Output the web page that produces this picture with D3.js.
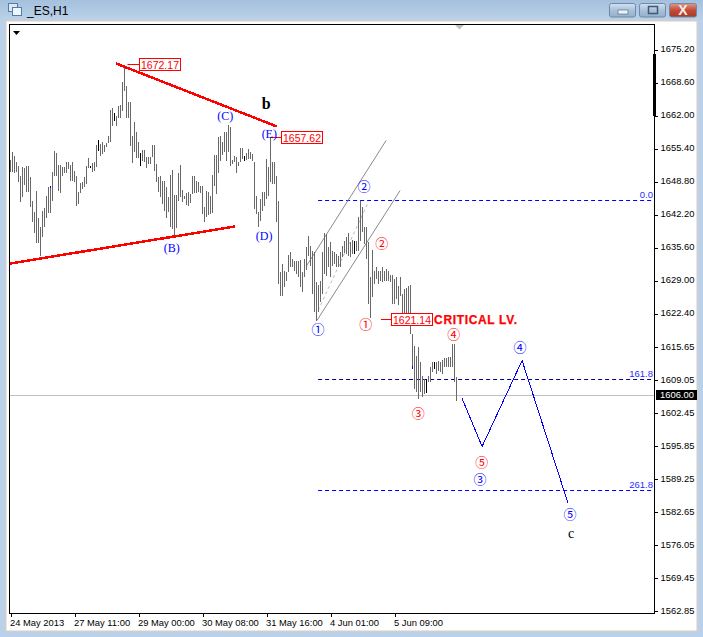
<!DOCTYPE html>
<html>
<head>
<meta charset="utf-8">
<script src="https://cdn.jsdelivr.net/npm/d3@7"></script>
<style>
  html, body { margin: 0; padding: 0; background: #b9d1ea; overflow: hidden; }
  svg { display: block; }
  text { font-family: "Liberation Sans", Arial, sans-serif; }
</style>
</head>
<body>
<div id="chart"></div>
<script>
// hourly bar highs and lows
const highs = [1653.2,1654.8,1653.9,1652.8,1652,1650,1651.8,1651.5,1651.9,1652,1649.8,1645,1642.7,1647,1641.5,1639.8,1643,1643.5,1645.9,1647.7,
  1648,1650.7,1655,1654.5,1652.2,1652.2,1651.7,1651.8,1652.8,1652.8,1652.1,1652.8,1651,1650,1646.8,1648.5,1648.8,1649.7,1652,1653.5,
  1652,1652.5,1652.8,1656.2,1657.2,1656.3,1656.7,1656.1,1656.5,1658,1663.2,1663.6,1662.5,1662,1663.9,1664.1,1668.7,1672.2,1668,1664.7,
  1664.7,1658,1660.8,1658.8,1656.8,1654.5,1655.2,1655.2,1653.7,1653.7,1653.7,1656.1,1656.1,1652.3,1649.7,1650,1648.9,1648.9,1647.7,1645.7,
  1650.2,1651.1,1646.1,1646.1,1650.5,1652.1,1647.2,1646,1646.5,1646.7,1646.3,1649.9,1650,1649,1648.7,1647.9,1647.9,1643.7,1647,1646.7,
  1646,1650.1,1654.2,1654.2,1657.7,1657.9,1656.7,1658.8,1658.8,1660.2,1659.7,1653.2,1653.9,1653.7,1652.7,1655.5,1655.5,1653.9,1654.5,1655.3,
  1654.8,1654.3,1652.7,1646,1642.8,1645.3,1646.8,1646.7,1653.3,1651.7,1657.7,1652.8,1652.8,1650,1645,1630.7,1632.3,1631,1630.7,1634.2,
  1634.7,1633.3,1632.9,1632.9,1632.9,1633.2,1630.7,1633.3,1635.7,1638,1636,1635,1634.7,1628.7,1628.2,1629,1634.7,1638.5,1638.3,1635.7,
  1636.7,1634.9,1634.7,1634.3,1634,1634.7,1636,1637,1637.7,1638.5,1636.7,1637.1,1637,1637,1641.7,1645,1643.7,1639.7,1639.7,1636.7,
  1629.8,1635.1,1630.9,1631.8,1630.9,1631,1631.8,1631,1631.3,1631,1630.2,1630.2,1629.3,1629.8,1628,1629.7,1626.3,1627.3,1627.5,1628,
  1628.2,1618.3,1616,1614,1615.7,1612.7,1610,1609.3,1609.3,1610,1611.7,1612.7,1612.8,1612.7,1613,1612.8,1613.1,1613.5,1613.5,1613.7,
  1613.7,1616.3,1616.3,1609.8];
const lows = [1650.7,1650.8,1650.5,1650.8,1648.7,1644.7,1645.7,1648.1,1646.8,1646.8,1643.7,1640.7,1638.5,1636.5,1636.5,1634,1637.7,1639.7,1641.5,1642.5,
  1642.5,1645,1649.9,1650,1647,1646.5,1650,1650.5,1650.5,1651.3,1649,1649,1648.7,1643.9,1644.3,1646.5,1647.3,1647.7,1648.3,1651.5,
  1651.5,1650.7,1651,1651.7,1655,1654,1654.3,1654.8,1655.7,1656.5,1656.7,1660,1661,1660,1661.5,1661.5,1663,1667,1661.5,1661.5,
  1656,1652.5,1654.7,1653.5,1653.5,1652,1653,1652.7,1651.5,1652.3,1652.3,1653.7,1651,1648.8,1646.8,1645.7,1644.3,1643,1641.5,1642.7,
  1639.7,1639.3,1637.9,1639.5,1645,1645.7,1644.8,1645.3,1644.1,1644,1644.5,1646.3,1646.5,1646.5,1646.8,1646.5,1642.3,1640.7,1641.7,1642.1,
  1642.3,1642.5,1648,1646.3,1650.5,1653,1654.1,1654.7,1653,1654.7,1652,1652.3,1652.7,1650.5,1652,1652.7,1653.3,1653,1653.2,1653.3,
  1653.3,1653,1643.3,1642.3,1639.7,1641,1643,1644,1645.3,1646,1648.7,1648.3,1648.3,1640.7,1628.3,1626,1626,1627.8,1629,1630.7,
  1631.7,1631.7,1631,1630.3,1629.7,1627.7,1626.7,1629.7,1631.1,1634,1632,1626.3,1622.7,1621,1622.7,1624.7,1626.3,1630.3,1630,1631.7,
  1629.7,1632,1632.3,1631.7,1631.7,1631.7,1633.7,1634.5,1634.3,1634,1633.7,1634.3,1634.3,1634.9,1635,1637,1638.7,1636.3,1633.3,1624.3,
  1621.5,1625.7,1628.3,1629.3,1628.3,1629,1628.7,1629,1629,1629,1628.7,1624.3,1624.3,1625.3,1624.2,1626,1622.3,1622.3,1622.3,1622,
  1618.3,1611.3,1607.3,1606.7,1605.3,1606.7,1605.7,1606.3,1606.5,1608.7,1608.7,1610.7,1611.3,1610.3,1611,1610.7,1610.3,1611.8,1611.8,1611.8,
  1611.8,1611.7,1608.7,1605];
// bars drawn black in the reference, and the two with a blue tip
const blackBars = [40, 44, 52, 65, 117, 172, 208, 212];
const blueTips = [[20, 1648, 1647.6], [201, 1612, 1611.3]];

// axis ticks
const priceTicks = [1675.20,1668.60,1662.00,1655.40,1648.80,1642.20,1635.60,1629.00,1622.40,1615.65,1609.05,1602.45,1595.85,1589.25,1582.65,1576.05,1569.45,1562.85];
const timeTickBars = [0, 32, 64, 96, 128, 160, 192];
const timeLabels = ["24 May 2013","27 May 11:00","29 May 00:00","30 May 08:00","31 May 16:00","4 Jun 01:00","5 Jun 09:00"];
const lastPrice = 1606.00;

// drawn objects, as [bar, price] pairs
const upperTrend = [[52.8, 1672.4], [133.2, 1659.8]];
const lowerTrend = [[-0.2, 1632.4], [112.2, 1639.8]];
const channelUpper = [[147.8, 1631.8], [187.8, 1657]];
const channelLower = [[153.2, 1621], [194.8, 1647]];
const channelMid = [[153.8, 1623], [178.8, 1644.6]];
const projection = [[225.8, 1605.4], [235.8, 1595.8], [255.8, 1613], [278.8, 1584.4]];

// fibonacci levels: label, price, first bar
const fibLabels = ["0.0", "161.8", "261.8"];
const fibPrices = [1645, 1609.2, 1587];
const fibStart = 153.8;

// price callouts: value, bar where the box starts, bar where the stub starts
const calloutValues = [1672.17, 1657.62, 1621.14];
const calloutBoxBars = [64.5, 135.6, 190.3];
const calloutStubBars = [58.5, 130.3, 185.2];

// wave labels: text, bar, price
const blueWaves = [["①",153.8,1619.4],["②",176.8,1648],["③",234.8,1589.4],["④",254.8,1615.8],["⑤",279.8,1582.4]];
const redWaves = [["①",177.6,1620.5],["②",185.6,1636.7],["③",203.9,1602.6],["④",221.6,1618.4],["⑤",235.6,1592.8]];
const letterWaves = [["(C)",107.4,1661.9],["(B)",80.6,1635.5],["(D)",126.8,1637.9],["(E)",129.4,1658.3]];

const width = 703, height = 637;
const frame = {top: 24.5, right: 654.5, bottom: 613.5, left: 9.5};

const svg = d3.select("#chart")
  .append("svg")
    .attr("width", width)
    .attr("height", height);

const x = d3.scaleLinear().domain([0, 1]).range([10.5, 12.5]);
const y = d3.scaleLinear().domain([1675.2, 1562.85]).range([49.5, 611.25]);

// window chrome
const defs = svg.append("defs");
const titleGrad = defs.append("linearGradient").attr("id", "titleGrad")
  .attr("x1", 0).attr("x2", 0).attr("y1", 0).attr("y2", 1);
titleGrad.append("stop").attr("offset", "0%").attr("stop-color", "#a5c0dd");
titleGrad.append("stop").attr("offset", "100%").attr("stop-color", "#bcd3eb");
const btnGrad = defs.append("linearGradient").attr("id", "btnGrad")
  .attr("x1", 0).attr("x2", 0).attr("y1", 0).attr("y2", 1);
btnGrad.append("stop").attr("offset", "0%").attr("stop-color", "#d4e2f0");
btnGrad.append("stop").attr("offset", "50%").attr("stop-color", "#a9c1da");
btnGrad.append("stop").attr("offset", "100%").attr("stop-color", "#95b0cc");
const closeGrad = defs.append("linearGradient").attr("id", "closeGrad")
  .attr("x1", 0).attr("x2", 0).attr("y1", 0).attr("y2", 1);
closeGrad.append("stop").attr("offset", "0%").attr("stop-color", "#dd9a8a");
closeGrad.append("stop").attr("offset", "50%").attr("stop-color", "#c44a38");
closeGrad.append("stop").attr("offset", "100%").attr("stop-color", "#a8382c");

svg.append("rect").attr("width", width).attr("height", height).attr("fill", "#b9d1ea");
svg.append("rect").attr("width", width).attr("height", 22).attr("fill", "url(#titleGrad)");
svg.append("rect")
    .attr("x", 5.5).attr("y", 20.5).attr("width", 692).attr("height", 611)
    .attr("fill", "#fff").attr("stroke", "#cfcfcf").attr("stroke-width", 2);

// title and icon
svg.append("rect").attr("x", 8.5).attr("y", 3.5).attr("width", 9).attr("height", 8).attr("fill", "#dce9f5").attr("stroke", "#4f7fa8");
svg.append("rect").attr("x", 12.5).attr("y", 7.5).attr("width", 9).attr("height", 8).attr("fill", "#eef5fb").attr("stroke", "#4f7fa8");
svg.append("text").attr("x", 27).attr("y", 15).attr("font-size", 12).attr("fill", "#000").text("_ES,H1");

// window buttons
[[610, "url(#btnGrad)"], [640, "url(#btnGrad)"], [670, "url(#closeGrad)"]].forEach(function(b) {
  svg.append("rect")
    .attr("x", b[0] - 0.5).attr("y", 3.5)
    .attr("width", b[0] == 670 ? 27 : 26).attr("height", 13.5).attr("rx", 2)
    .attr("fill", b[1]).attr("stroke", "#6f8aa8");
});
svg.append("rect").attr("x", 618).attr("y", 10).attr("width", 10).attr("height", 4).attr("fill", "#eef3f8").attr("stroke", "#56718e").attr("stroke-width", 0.7);
svg.append("rect").attr("x", 648.5).attr("y", 6.5).attr("width", 9).attr("height", 7).attr("fill", "none").attr("stroke", "#3e5a78").attr("stroke-width", 1.5);
svg.append("text").attr("x", 683).attr("y", 15).attr("text-anchor", "middle").attr("font-size", 14).attr("font-weight", "bold").attr("fill", "#f4ece8").text("X");

// last price line sits under the bars
svg.append("line")
    .attr("x1", frame.left).attr("x2", frame.right)
    .attr("y1", Math.floor(y(lastPrice)) + 0.5).attr("y2", Math.floor(y(lastPrice)) + 0.5)
    .attr("stroke", "#c0c0c0");

// fibonacci levels
const fibColors = ["#0000ff", "#000099", "#0000ff"];
fibPrices.forEach(function(p, i) {
  svg.append("line")
      .attr("x1", x(fibStart)).attr("x2", 653)
      .attr("y1", Math.floor(y(p)) + 0.5).attr("y2", Math.floor(y(p)) + 0.5)
      .attr("stroke", fibColors[i])
      .attr("stroke-dasharray", "4,3");
  svg.append("text")
      .attr("x", 653).attr("y", Math.floor(y(p)) - 2)
      .attr("text-anchor", "end")
      .attr("font-size", 9.5)
      .attr("fill", "#2a2aff")
      .text(fibLabels[i]);
});

// channel, thin grey
const line = d3.line().x(d => x(d[0])).y(d => y(d[1]));
svg.append("path").attr("d", line(channelUpper)).attr("fill", "none").attr("stroke", "#8a8a8a");
svg.append("path").attr("d", line(channelLower)).attr("fill", "none").attr("stroke", "#8a8a8a");
svg.append("path").attr("d", line(channelMid)).attr("fill", "none").attr("stroke", "#bbb").attr("stroke-dasharray", "3,3");

// hl bars
svg.append("g")
    .attr("shape-rendering", "crispEdges")
  .selectAll("line")
  .data(highs)
  .join("line")
    .attr("x1", (d, i) => x(i))
    .attr("x2", (d, i) => x(i))
    .attr("y1", d => y(d))
    .attr("y2", (d, i) => y(lows[i]))
    .attr("stroke", (d, i) => blackBars.includes(i) ? "#000" : "#686868");

svg.append("g")
    .attr("shape-rendering", "crispEdges")
  .selectAll("line")
  .data(blueTips)
  .join("line")
    .attr("x1", d => x(d[0]))
    .attr("x2", d => x(d[0]))
    .attr("y1", d => y(d[1]))
    .attr("y2", d => y(d[2]))
    .attr("stroke", "#0000ff");

// red trendlines, aliased like the terminal draws them
svg.append("path").attr("d", line(upperTrend)).attr("fill", "none").attr("stroke", "#ff0000").attr("stroke-width", 2.5).attr("shape-rendering", "crispEdges");
svg.append("path").attr("d", line(lowerTrend)).attr("fill", "none").attr("stroke", "#ff0000").attr("stroke-width", 2.5).attr("shape-rendering", "crispEdges");

// projected path
svg.append("path").attr("d", line(projection)).attr("fill", "none").attr("stroke", "#0000ff").attr("stroke-width", 1).attr("shape-rendering", "crispEdges");

// price callouts
calloutValues.forEach(function(v, i) {
  const yy = Math.floor(y(v)) + 0.5;
  const bx = Math.floor(x(calloutBoxBars[i])) + 0.5;
  svg.append("line")
      .attr("x1", x(calloutStubBars[i])).attr("x2", bx)
      .attr("y1", yy).attr("y2", yy)
      .attr("stroke", "#ff0000");
  svg.append("rect")
      .attr("x", bx).attr("y", yy - 6)
      .attr("width", 41).attr("height", 12)
      .attr("fill", "#fff").attr("stroke", "#ff0000");
  svg.append("text")
      .attr("x", bx + 20.5).attr("y", yy + 4)
      .attr("text-anchor", "middle")
      .attr("font-size", 10.5)
      .attr("fill", "#ff0000")
      .text(d3.format(".2f")(v));
});

svg.append("text")
    .attr("x", x(211.8)).attr("y", y(1621.14) + 4.5)
    .attr("font-size", 12)
    .attr("font-weight", "bold")
    .attr("letter-spacing", 0.65)
    .attr("fill", "#ff0000")
    .attr("stroke", "#ff0000")
    .attr("stroke-width", 0.25)
    .text("CRITICAL LV.");

// wave labels
function waveText(data, color, font, size, weight) {
  svg.append("g").selectAll("text")
    .data(data)
    .join("text")
      .attr("x", d => x(d[1]))
      .attr("y", d => y(d[2]))
      .attr("text-anchor", "middle")
      .attr("dominant-baseline", "central")
      .attr("fill", color)
      .attr("font-weight", weight || "normal")
      .style("font-family", font)
      .attr("font-size", size)
      .text(d => d[0]);
}
waveText(blueWaves, "#0000ff", '"Noto Sans CJK JP"', 13);
waveText(redWaves, "#ff0000", '"Noto Sans CJK JP"', 13);
waveText(letterWaves, "#0000ff", '"Liberation Serif"', 12);
waveText([["b", 127.8, 1664.4]], "#000", '"Liberation Serif"', 16, "bold");
waveText([["c", 280.3, 1578.4]], "#000", '"Liberation Serif"', 14);

// frame
svg.append("rect")
    .attr("x", frame.left).attr("y", frame.top)
    .attr("width", frame.right - frame.left).attr("height", frame.bottom - frame.top)
    .attr("fill", "none").attr("stroke", "#000");

// small markers on the chart edge
svg.append("path").attr("d", "M13,31 L20,31 L16.5,35 Z").attr("fill", "#000");
svg.append("path").attr("d", "M455,25 L464,25 L459.5,29.5 Z").attr("fill", "#c0c0c0");

// y axis
const yAxis = d3.axisRight(y)
    .tickValues(priceTicks)
    .tickFormat(d3.format(".2f"))
    .tickSize(3)
    .tickPadding(3);
svg.append("g")
    .attr("transform", `translate(${frame.right},0)`)
    .attr("shape-rendering", "crispEdges")
    .call(yAxis)
    .call(g => g.select(".domain").remove())
    .selectAll("text")
      .style("font-family", '"Liberation Sans"')
      .attr("font-size", 9.4)
      .attr("dy", "0.2em")
      .attr("fill", "#000");

// x axis
const xAxis = d3.axisBottom(x)
    .tickValues(timeTickBars)
    .tickFormat((d, i) => timeLabels[i])
    .tickSize(3)
    .tickPadding(3);
svg.append("g")
    .attr("transform", `translate(0,${frame.bottom})`)
    .attr("shape-rendering", "crispEdges")
    .call(xAxis)
    .call(g => g.select(".domain").remove())
    .selectAll("text")
      .style("font-family", '"Liberation Sans"')
      .attr("font-size", 9.4)
      .attr("fill", "#000")
      .attr("text-anchor", "start")
      .attr("dx", -1);

// thick scale marker on the right edge
svg.append("rect").attr("x", 653).attr("y", 54).attr("width", 3).attr("height", 62).attr("fill", "#000");

// last price label
svg.append("rect").attr("x", 656).attr("y", y(lastPrice) - 5.5).attr("width", 41).attr("height", 10).attr("fill", "#000");
svg.append("text")
    .attr("x", 660).attr("y", y(lastPrice) + 2.8)
    .attr("font-size", 9.4)
    .attr("fill", "#fff")
    .text(d3.format(".2f")(lastPrice));
</script>
</body>
</html>
